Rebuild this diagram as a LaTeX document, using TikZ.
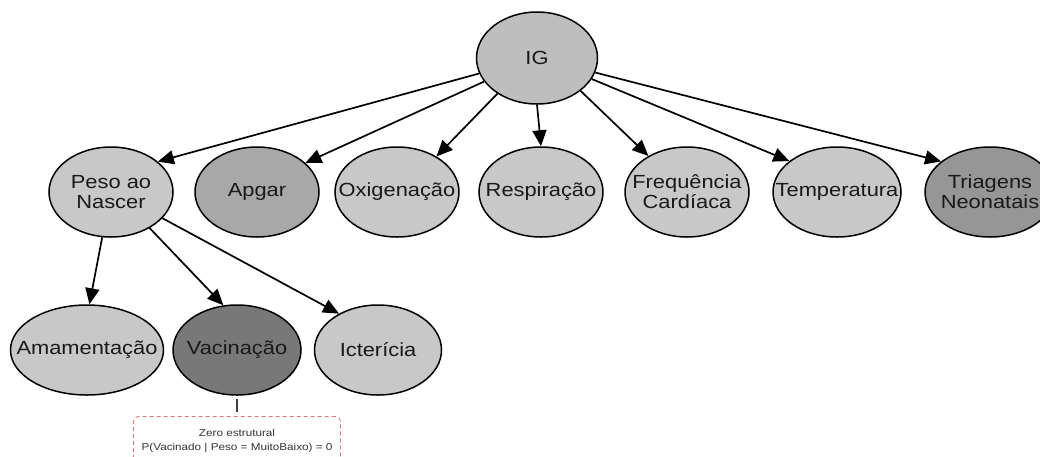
\documentclass[tikz,border=0pt]{standalone}
\usepackage{fontspec}
\setmainfont{Liberation Sans}
\newfontfamily\nodefont[FakeStretch=1.15]{Liberation Sans}
\newfontfamily\notefont[FakeStretch=1.17]{Liberation Sans}
\usetikzlibrary{arrows.meta,shapes.geometric}
\definecolor{lg}{HTML}{C8C8C8}
\definecolor{ig}{HTML}{BEBEBE}
\definecolor{mg}{HTML}{A8A8A8}
\definecolor{tg}{HTML}{969696}
\definecolor{dg}{HTML}{787878}
\definecolor{notered}{HTML}{E57373}
\begin{document}
\begin{tikzpicture}[x=1pt,y=-1pt,
  bn/.style={ellipse,draw=black,line width=1.5pt,inner sep=0pt,
    minimum width=124pt,minimum height=90pt,fill=lg,
    label={[lbl]center:#1}},
  lbl/.style={font=\nodefont\fontsize{19}{20}\selectfont,align=center,text=black!90,inner sep=0pt},
  arr/.style={line width=1.7pt,-{Triangle[length=16pt,width=14pt]}},
  notebox/.style={draw=notered,dash pattern=on 4pt off 3pt,line width=0.8pt,
    rounded corners=5pt,fill=white,minimum width=207pt,minimum height=50pt,
    font=\notefont\fontsize{10}{14}\selectfont,align=center,text=black!80,anchor=north},
]
\clip (0,0) rectangle (1040,456);
\fill[white] (0,0) rectangle (1040,456);

\node[bn=IG,fill=ig,minimum width=121pt,minimum height=92pt] (ig) at (537,58) {};

\node[bn={Peso ao\\Nascer}] (peso) at (111,192) {};
\node[bn=Apgar,fill=mg] (apgar) at (257,192) {};
\node[bn=Oxigenação] (oxi) at (397,192) {};
\node[bn=Respiração] (resp) at (541,192) {};
\node[bn={Frequência\\Cardíaca}] (freq) at (687,192) {};
\node[bn=Temperatura,minimum width=128pt] (temp) at (837,192) {};
\node[bn={Triagens\\Neonatais},fill=tg,minimum width=130pt] (triag) at (990,192) {};

\node[bn=Amamentação,minimum width=153pt] (amam) at (87,350) {};
\node[bn=Vacinação,fill=dg,minimum width=128pt] (vac) at (237,350) {};
\node[bn=Icterícia,minimum width=127pt] (ict) at (378,350) {};

\draw[arr] (ig.195) -- (peso.33);
\draw[arr] (ig.204) -- (apgar.31);
\draw[arr] (ig.222) -- (oxi.42);
\draw[arr] (ig.south) -- (resp.north);
\draw[arr] (ig.323) -- (freq.137);
\draw[arr] (ig.339) -- (temp.147);
\draw[arr] (ig.346) -- (triag.148);

\draw[arr] (peso.259) -- (amam.87);
\draw[arr] (peso.317) -- (vac.107);
\draw[arr] (peso.333) -- (ict.137);

\node[notebox] (note) at (237,416) {Zero estrutural\\P(Vacinado | Peso = MuitoBaixo) = 0};
\draw[line width=1.1pt,black!75,shorten <=3pt,shorten >=4pt] (vac.south) -- (note.north);
\end{tikzpicture}
\end{document}
